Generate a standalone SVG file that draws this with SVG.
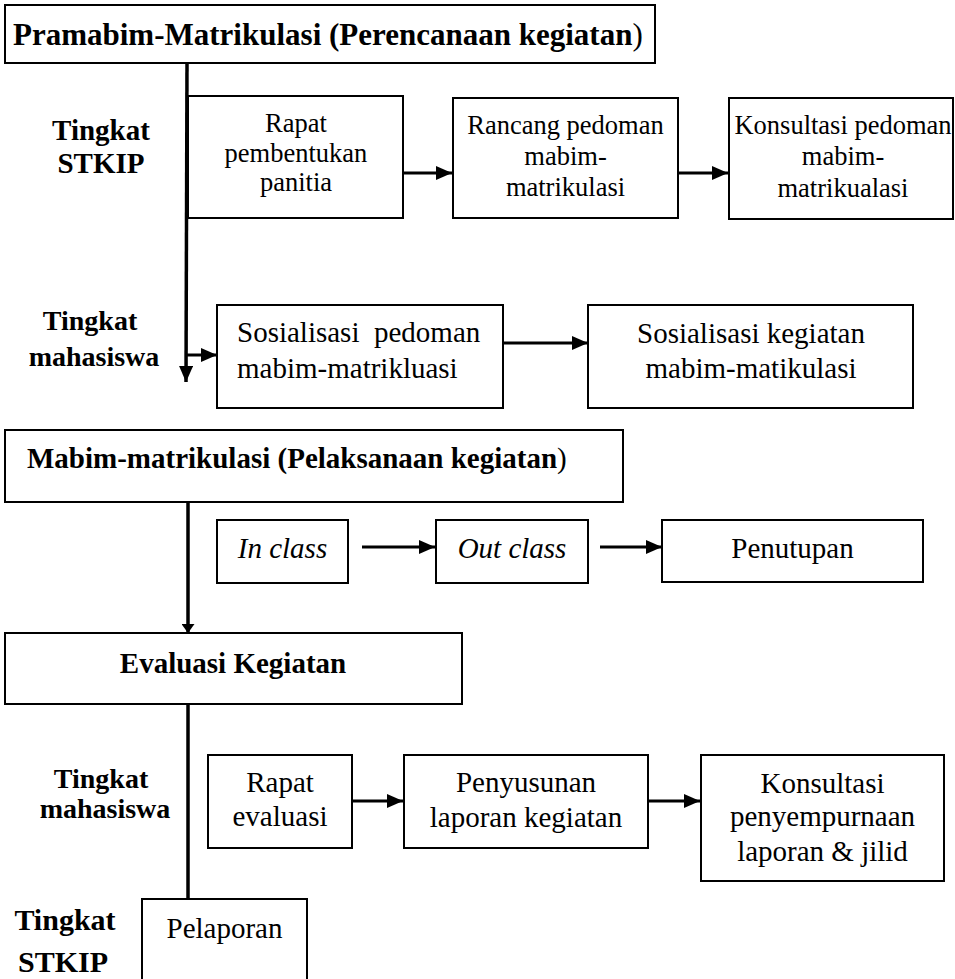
<svg xmlns="http://www.w3.org/2000/svg" width="955" height="979" viewBox="0 0 955 979">
<style>
.box{fill:#fff;stroke:#000;stroke-width:2}
.t{font-family:"Liberation Serif","Times New Roman",serif;fill:#000;text-anchor:middle}
.s{font-size:26.5px}
.m{font-size:29px}
.b{font-weight:bold}
.i{font-style:italic}
.c{stroke:#000;fill:none}
</style>
<defs>
<marker id="ah" viewBox="0 0 16 14" refX="16" refY="7" markerWidth="16" markerHeight="14" markerUnits="userSpaceOnUse" orient="auto"><path d="M0,0 L16,7 L0,14 z" fill="#000"/></marker>
<marker id="ahs" viewBox="0 0 9 13" refX="9" refY="6.5" markerWidth="9" markerHeight="13" markerUnits="userSpaceOnUse" orient="auto"><path d="M0,0 L9,6.5 L0,13 z" fill="#000"/></marker>
</defs>
<rect width="955" height="979" fill="#fff"/>

<g id="connectors">
<line class="c" x1="187" y1="63" x2="186" y2="382" stroke-width="3.5" marker-end="url(#ah)"/>
<line class="c" x1="187" y1="355" x2="217" y2="355" stroke-width="3" marker-end="url(#ah)"/>
<line class="c" x1="404" y1="173" x2="452" y2="173" stroke-width="3" marker-end="url(#ah)"/>
<line class="c" x1="679" y1="173" x2="728" y2="173" stroke-width="3" marker-end="url(#ah)"/>
<line class="c" x1="503" y1="343" x2="588" y2="343" stroke-width="3" marker-end="url(#ah)"/>
<line class="c" x1="188" y1="502" x2="188" y2="633" stroke-width="3.5" marker-end="url(#ahs)"/>
<line class="c" x1="362" y1="547" x2="435" y2="547" stroke-width="3" marker-end="url(#ah)"/>
<line class="c" x1="600" y1="547" x2="662" y2="547" stroke-width="3" marker-end="url(#ah)"/>
<line class="c" x1="188" y1="704" x2="188" y2="899" stroke-width="3.5"/>
<line class="c" x1="352" y1="801" x2="403" y2="801" stroke-width="3" marker-end="url(#ah)"/>
<line class="c" x1="648" y1="801" x2="700" y2="801" stroke-width="3" marker-end="url(#ah)"/>
</g>

<g id="header-pramabim">
<rect class="box" x="5" y="5" width="650" height="58"/>
<text class="t b" x="13" y="45" style="font-size:31px;text-anchor:start">Pramabim-Matrikulasi (Perencanaan kegiatan<tspan font-weight="normal">)</tspan></text>
</g>

<g id="label-stkip-1">
<text class="t b m" x="101" y="140">Tingkat</text>
<text class="t b m" x="101" y="173">STKIP</text>
</g>

<g id="rapat-pembentukan">
<rect class="box" x="188" y="96" width="215" height="122"/>
<text class="t s" x="296" y="132">Rapat</text>
<text class="t s" x="296" y="162">pembentukan</text>
<text class="t s" x="296" y="191">panitia</text>
</g>

<g id="rancang-pedoman">
<rect class="box" x="453" y="98" width="225" height="120"/>
<text class="t s" x="565.5" y="134">Rancang pedoman</text>
<text class="t s" x="565.5" y="165">mabim-</text>
<text class="t s" x="565.5" y="196">matrikulasi</text>
</g>

<g id="konsultasi-pedoman">
<rect class="box" x="729" y="98" width="224" height="121"/>
<text class="t s" x="843" y="134">Konsultasi pedoman</text>
<text class="t s" x="843" y="165">mabim-</text>
<text class="t s" x="843" y="197">matrikualasi</text>
</g>

<g id="label-mahasiswa-1">
<text class="t b" x="90" y="330" style="font-size:28px">Tingkat</text>
<text class="t b" x="94" y="366" style="font-size:28px">mahasiswa</text>
</g>

<g id="sosialisasi-pedoman">
<rect class="box" x="217" y="305" width="286" height="103"/>
<text class="t m" x="237" y="342" style="text-anchor:start;white-space:pre" xml:space="preserve">Sosialisasi  pedoman</text>
<text class="t m" x="237" y="378" style="text-anchor:start">mabim-matrikluasi</text>
</g>

<g id="sosialisasi-kegiatan">
<rect class="box" x="588" y="305" width="325" height="103"/>
<text class="t m" x="751" y="343">Sosialisasi kegiatan</text>
<text class="t m" x="751" y="378">mabim-matikulasi</text>
</g>

<g id="header-mabim">
<rect class="box" x="5" y="430" width="618" height="72"/>
<text class="t b m" x="27" y="468" style="text-anchor:start">Mabim-matrikulasi (Pelaksanaan kegiatan<tspan font-weight="normal">)</tspan></text>
</g>

<g id="in-class">
<rect class="box" x="217" y="520" width="131" height="63"/>
<text class="t m i" x="282.5" y="558">In class</text>
</g>

<g id="out-class">
<rect class="box" x="436" y="520" width="152" height="63"/>
<text class="t m i" x="512" y="558">Out class</text>
</g>

<g id="penutupan">
<rect class="box" x="662" y="520" width="261" height="62"/>
<text class="t m" x="792.5" y="558">Penutupan</text>
</g>

<g id="header-evaluasi">
<rect class="box" x="5" y="633" width="457" height="71"/>
<text class="t b m" x="233" y="673">Evaluasi Kegiatan</text>
</g>

<g id="label-mahasiswa-2">
<text class="t b" x="101" y="788" style="font-size:28px">Tingkat</text>
<text class="t b" x="105" y="818" style="font-size:28px">mahasiswa</text>
</g>

<g id="rapat-evaluasi">
<rect class="box" x="208" y="755" width="144" height="93"/>
<text class="t m" x="280" y="792">Rapat</text>
<text class="t m" x="280" y="826">evaluasi</text>
</g>

<g id="penyusunan-laporan">
<rect class="box" x="404" y="755" width="244" height="93"/>
<text class="t m" x="526" y="792">Penyusunan</text>
<text class="t m" x="526" y="827">laporan kegiatan</text>
</g>

<g id="konsultasi-penyempurnaan">
<rect class="box" x="701" y="755" width="243" height="126"/>
<text class="t m" x="822.5" y="793">Konsultasi</text>
<text class="t m" x="822.5" y="826">penyempurnaan</text>
<text class="t m" x="822.5" y="861">laporan &amp; jilid</text>
</g>

<g id="label-stkip-2">
<text class="t b" x="65" y="930" style="font-size:30px">Tingkat</text>
<text class="t b" x="63" y="972" style="font-size:30px">STKIP</text>
</g>

<g id="pelaporan">
<rect class="box" x="142" y="899" width="165" height="100"/>
<text class="t m" x="224.5" y="938">Pelaporan</text>
</g>
</svg>
